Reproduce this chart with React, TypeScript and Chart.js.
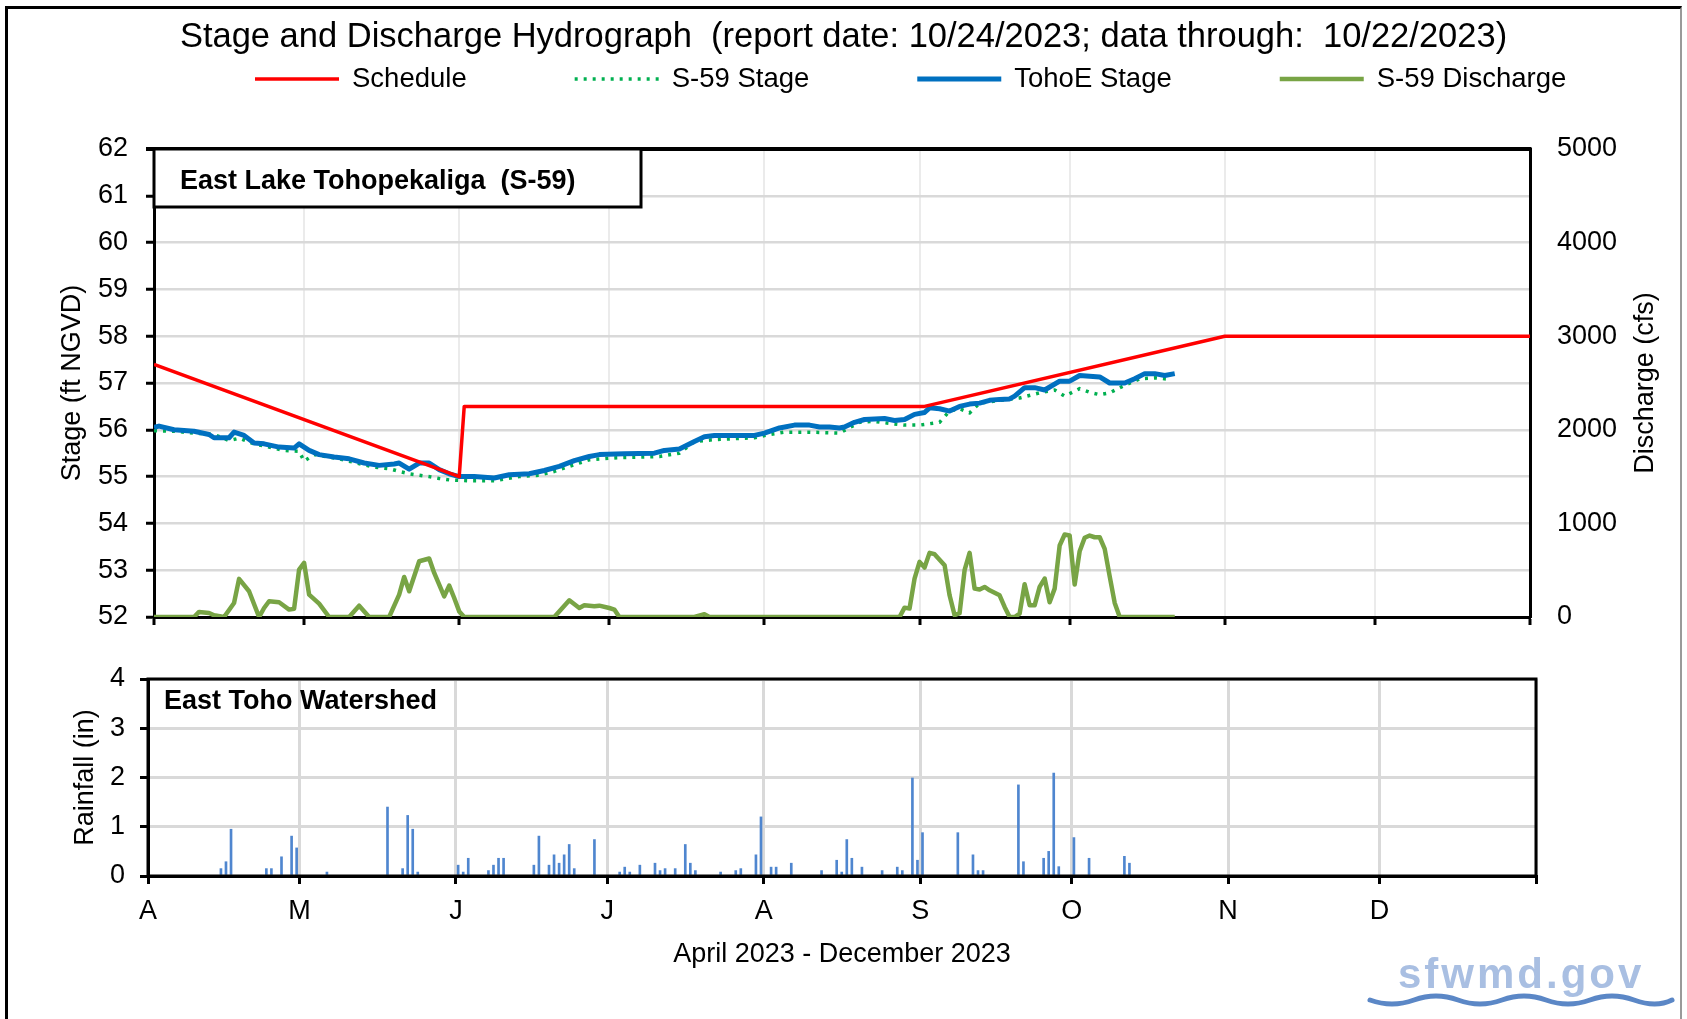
import React, { useEffect, useRef } from 'react';
import { Chart, registerables } from 'chart.js';

Chart.register(...registerables);

const FONT = '"Liberation Sans", Arial, Helvetica, sans-serif';
Chart.defaults.font.family = FONT;
Chart.defaults.color = '#000';

// ---- axis / categories (days since 1 April 2023) ----
const monthStartDays = [0, 30, 61, 91, 122, 153, 183, 214, 244, 275];
const monthLabels = ['A', 'M', 'J', 'J', 'A', 'S', 'O', 'N', 'D', ''];
const stageTicks = [52, 53, 54, 55, 56, 57, 58, 59, 60, 61, 62];
const dischargeTicks = [0, 1000, 2000, 3000, 4000, 5000];
const rainTicks = [0, 1, 2, 3, 4];

// ---- Schedule (ft NGVD) ----
const scheduleDays = [0, 61, 62, 154, 214, 275];
const scheduleStage = [57.4, 55.0, 56.5, 56.5, 58.0, 58.0];

// ---- TohoE Stage (ft NGVD) ----
const tohoEDays = [0, 1, 4, 8, 11, 12, 15, 16, 18, 20, 22, 25, 28, 29, 31, 33, 36, 39, 42, 45, 48, 49, 51, 53, 55, 57, 59, 61, 64, 68, 71, 75, 78, 81, 84, 87, 89, 94, 100, 102, 105, 108, 110, 112, 120, 122, 125, 128, 131, 133, 135, 137, 138, 140, 142, 146, 148, 150, 152, 154, 155, 157, 159, 161, 163, 165, 167, 169, 171, 172, 174, 176, 178, 181, 183, 185, 189, 191, 194, 196, 198, 200, 202, 204];
const tohoEStage = [56.05, 56.08, 56.0, 55.97, 55.9, 55.83, 55.83, 55.95, 55.88, 55.72, 55.7, 55.63, 55.61, 55.7, 55.56, 55.47, 55.42, 55.38, 55.29, 55.24, 55.27, 55.29, 55.16, 55.29, 55.29, 55.15, 55.06, 55.0, 55.0, 54.97, 55.04, 55.06, 55.13, 55.22, 55.34, 55.43, 55.47, 55.49, 55.5, 55.56, 55.59, 55.75, 55.85, 55.88, 55.88, 55.93, 56.04, 56.1, 56.1, 56.06, 56.06, 56.04, 56.06, 56.16, 56.22, 56.24, 56.2, 56.22, 56.33, 56.37, 56.47, 56.45, 56.4, 56.5, 56.55, 56.57, 56.63, 56.65, 56.66, 56.72, 56.9, 56.9, 56.85, 57.04, 57.04, 57.16, 57.13, 57.0, 57.0, 57.09, 57.2, 57.2, 57.16, 57.2];

// ---- S-59 Stage (ft NGVD) ----
const s59Days = [0, 4, 8, 12, 15, 17, 20, 26, 29, 30, 32, 37, 44, 47, 49, 51, 55, 57, 59, 63, 68, 73, 77, 80, 83, 87, 92, 101, 105, 108, 112, 120, 123, 126, 131, 137, 141, 144, 146, 150, 153, 157, 159, 161, 163, 165, 167, 173, 177, 180, 182, 185, 187, 189, 191, 194, 197, 200, 203];
const s59Stage = [55.98, 55.97, 55.93, 55.9, 55.77, 55.82, 55.7, 55.56, 55.54, 55.33, 55.47, 55.38, 55.2, 55.17, 55.11, 55.06, 55.0, 54.96, 54.93, 54.91, 54.91, 55.0, 55.03, 55.11, 55.22, 55.36, 55.4, 55.43, 55.5, 55.75, 55.79, 55.83, 55.9, 55.95, 55.95, 55.93, 56.16, 56.18, 56.15, 56.1, 56.1, 56.16, 56.4, 56.45, 56.36, 56.57, 56.6, 56.68, 56.79, 56.85, 56.72, 56.88, 56.8, 56.75, 56.79, 56.95, 57.09, 57.11, 57.08];

// ---- S-59 Discharge (cfs) ----
const dischargeDays = [0, 8, 9, 11, 12, 14, 16, 17, 19, 21, 22, 23, 25, 27, 28, 29, 30, 31, 33, 35, 39, 41, 43, 47, 49, 50, 51, 53, 55, 56, 58, 59, 60, 61, 62, 80, 83, 85, 86, 88, 89, 91, 92, 93, 108, 110, 111, 149, 150, 151, 152, 153, 154, 155, 156, 158, 159, 160, 161, 162, 163, 164, 165, 166, 167, 169, 170, 171, 172, 173, 174, 175, 176, 177, 178, 179, 180, 181, 182, 183, 184, 185, 186, 187, 188, 189, 190, 191, 192, 193, 204];
const dischargeCfs = [0, 0, 54, 43, 18, 0, 150, 407, 275, 0, 96, 168, 157, 79, 89, 507, 578, 239, 143, 0, 0, 121, 0, 0, 239, 428, 275, 596, 625, 471, 221, 335, 203, 60, 0, 0, 178, 96, 125, 114, 121, 96, 79, 0, 0, 29, 0, 0, 100, 90, 411, 589, 528, 685, 671, 553, 232, 20, 40, 500, 685, 303, 293, 321, 285, 232, 107, 0, 0, 36, 350, 125, 125, 321, 411, 157, 303, 764, 881, 870, 346, 703, 846, 870, 852, 852, 728, 435, 150, 0, 0];

// ---- East Toho Watershed rainfall (in) ----
const rainDays = [14, 15, 16, 23, 24, 26, 28, 29, 35, 47, 50, 51, 52, 53, 61, 62, 63, 67, 68, 69, 70, 76, 77, 79, 80, 81, 82, 83, 84, 88, 93, 94, 95, 97, 100, 101, 102, 104, 106, 107, 108, 113, 116, 117, 120, 121, 123, 124, 127, 133, 136, 137, 138, 139, 141, 145, 148, 149, 151, 152, 153, 160, 163, 164, 165, 172, 173, 177, 178, 179, 180, 183, 186, 193, 194];
const rainInches = [0.15, 0.29, 0.95, 0.15, 0.15, 0.39, 0.81, 0.57, 0.08, 1.4, 0.15, 1.23, 0.95, 0.08, 0.22, 0.08, 0.36, 0.11, 0.22, 0.36, 0.36, 0.22, 0.81, 0.22, 0.43, 0.26, 0.43, 0.64, 0.15, 0.74, 0.08, 0.18, 0.08, 0.22, 0.26, 0.11, 0.15, 0.15, 0.64, 0.26, 0.11, 0.08, 0.11, 0.15, 0.43, 1.2, 0.18, 0.18, 0.26, 0.11, 0.32, 0.08, 0.74, 0.36, 0.18, 0.11, 0.18, 0.11, 1.99, 0.32, 0.88, 0.88, 0.43, 0.11, 0.11, 1.85, 0.29, 0.36, 0.5, 2.09, 0.19, 0.78, 0.36, 0.4, 0.26];

const TITLE = 'Stage and Discharge Hydrograph  (report date: 10/24/2023; data through:  10/22/2023)';

const pts = (xs: number[], ys: number[], dx = 0) => xs.map((x, i) => ({ x: x + dx, y: ys[i] }));
const setTicks = (vals: number[]) => (s: any) => {
  s.ticks = vals.map((v) => ({ value: v }));
};
const plainNum = (v: any) => String(v);

const upperDecor = {
  id: 'upperDecor',
  afterDraw(chart: any) {
    const { ctx, chartArea: a } = chart;
    ctx.save();
    // top border of plot
    ctx.strokeStyle = '#000';
    ctx.lineWidth = 4;
    ctx.beginPath();
    ctx.moveTo(a.left - 8, a.top);
    ctx.lineTo(a.right + 1.5, a.top);
    ctx.stroke();
    // station label box
    ctx.fillStyle = '#fff';
    ctx.fillRect(a.left, a.top, 487, 58);
    ctx.lineWidth = 3;
    ctx.strokeRect(a.left, a.top, 487, 58);
    ctx.fillStyle = '#000';
    ctx.font = `bold 27px ${FONT}`;
    ctx.textAlign = 'left';
    ctx.textBaseline = 'middle';
    ctx.fillText('East Lake Tohopekaliga  (S-59)', a.left + 26, a.top + 33);
    // right axis title (reads bottom-to-top)
    ctx.save();
    ctx.translate(1646, (a.top + a.bottom) / 2);
    ctx.rotate(-Math.PI / 2);
    ctx.textAlign = 'center';
    ctx.font = `27px ${FONT}`;
    ctx.fillText('Discharge (cfs)', 0, 0);
    ctx.restore();
    // legend
    let x = 255;
    const y = 79;
    ctx.font = `27.5px ${FONT}`;
    chart.data.datasets.forEach((ds: any) => {
      ctx.strokeStyle = ds.borderColor;
      ctx.lineWidth = ds.borderWidth;
      ctx.setLineDash(ds.borderDash || []);
      ctx.beginPath();
      ctx.moveTo(x, y);
      ctx.lineTo(x + 84, y);
      ctx.stroke();
      ctx.setLineDash([]);
      ctx.fillStyle = '#000';
      ctx.textAlign = 'left';
      ctx.textBaseline = 'middle';
      ctx.fillText(ds.label, x + 97, y);
      x += 97 + ctx.measureText(ds.label).width + 108;
    });
    ctx.restore();
  },
};

const lowerDecor = {
  id: 'lowerDecor',
  afterDraw(chart: any) {
    const { ctx, chartArea: a } = chart;
    ctx.save();
    ctx.strokeStyle = '#000';
    ctx.lineWidth = 3;
    ctx.strokeRect(a.left, a.top, a.right - a.left, a.bottom - a.top);
    ctx.fillStyle = '#000';
    ctx.font = `bold 27px ${FONT}`;
    ctx.textAlign = 'left';
    ctx.textBaseline = 'middle';
    ctx.fillText('East Toho Watershed', a.left + 16, a.top + 23);
    ctx.restore();
  },
};

const lineDs = (label: string, data: any[], color: string, width: number, axis: string, order: number, dash?: number[]) => ({
  label,
  data,
  borderColor: color,
  backgroundColor: color,
  borderWidth: width,
  borderDash: dash || [],
  pointRadius: 0,
  tension: 0,
  fill: false,
  yAxisID: axis,
  order,
  borderJoinStyle: 'round',
});

function upperConfig(): any {
  return {
    type: 'line',
    data: {
      datasets: [
        lineDs('Schedule', pts(scheduleDays, scheduleStage), '#ff0000', 3.5, 'y', 0),
        lineDs('S-59 Stage', pts(s59Days, s59Stage), '#00b050', 3.5, 'y', 2, [3, 6]),
        lineDs('TohoE Stage', pts(tohoEDays, tohoEStage), '#0070c0', 5, 'y', 1),
        lineDs('S-59 Discharge', pts(dischargeDays, dischargeCfs), '#78a445', 4.5, 'y1', 3),
      ],
    },
    options: {
      animation: false,
      responsive: false,
      maintainAspectRatio: false,
      events: [],
      layout: { padding: { left: 0, right: 0, top: 0, bottom: 0 } },
      plugins: {
        legend: { display: false },
        tooltip: { enabled: false },
        title: {
          display: true,
          text: TITLE,
          color: '#000',
          font: { family: FONT, size: 34.5, weight: 'normal', lineHeight: 1.2 },
          padding: { top: 17, bottom: 90.6 },
        },
      },
      scales: {
        x: {
          type: 'linear',
          min: 0,
          max: 275,
          afterBuildTicks: setTicks(monthStartDays),
          afterFit: (s: any) => {
            s.height = 50;
          },
          ticks: { display: false },
          grid: { color: '#ebebeb', lineWidth: 2, tickColor: '#000', tickWidth: 3, tickLength: 8 },
          border: { display: true, color: '#000', width: 3 },
        },
        y: {
          position: 'left',
          min: 52,
          max: 62,
          afterBuildTicks: setTicks(stageTicks),
          afterFit: (s: any) => {
            s.width = 154;
          },
          ticks: { font: { size: 27, family: FONT }, color: '#000', padding: 18, callback: plainNum },
          grid: { color: '#d9d9d9', lineWidth: 2.5, tickColor: '#000', tickWidth: 3, tickLength: 8 },
          border: { display: true, color: '#000', width: 3 },
          title: {
            display: true,
            text: 'Stage (ft NGVD)',
            color: '#000',
            font: { size: 27, family: FONT },
            padding: { top: 56, bottom: 0 },
          },
        },
        y1: {
          position: 'right',
          min: 0,
          max: 5000,
          afterBuildTicks: setTicks(dischargeTicks),
          afterFit: (s: any) => {
            s.width = 157;
          },
          ticks: { font: { size: 27, family: FONT }, color: '#000', padding: 27, callback: plainNum },
          grid: { drawOnChartArea: false, drawTicks: false },
          border: { display: true, color: '#000', width: 3 },
        },
      },
    },
    plugins: [upperDecor],
  };
}

function lowerConfig(): any {
  return {
    type: 'bar',
    data: {
      datasets: [
        {
          label: 'Rainfall',
          // bars centred within their day
          data: pts(rainDays, rainInches, 0.45),
          backgroundColor: '#4f86cf',
          borderWidth: 0,
          barThickness: 2,
        },
      ],
    },
    options: {
      animation: false,
      responsive: false,
      maintainAspectRatio: false,
      events: [],
      layout: { padding: { left: 0, right: 151, top: 49, bottom: 46.8 } },
      plugins: { legend: { display: false }, tooltip: { enabled: false }, title: { display: false } },
      scales: {
        x: {
          type: 'linear',
          min: 0,
          max: 275,
          offset: false,
          afterBuildTicks: setTicks(monthStartDays),
          afterFit: (s: any) => {
            s.height = 96.2;
          },
          ticks: {
            font: { size: 27, family: FONT },
            color: '#000',
            padding: 11,
            autoSkip: false,
            maxRotation: 0,
            callback: (_v: any, i: number) => monthLabels[i],
          },
          grid: { offset: false, color: '#d9d9d9', lineWidth: 3, tickColor: '#000', tickWidth: 3, tickLength: 8 },
          border: { display: true, color: '#000', width: 3 },
          title: {
            display: true,
            text: 'April 2023 - December 2023',
            color: '#000',
            font: { size: 27, family: FONT },
            padding: { top: 0, bottom: 1 },
          },
        },
        y: {
          position: 'left',
          min: 0,
          max: 4,
          afterBuildTicks: setTicks(rainTicks),
          afterFit: (s: any) => {
            s.width = 148;
          },
          ticks: { font: { size: 27, family: FONT }, color: '#000', padding: 15, callback: plainNum },
          grid: { color: '#d9d9d9', lineWidth: 3, tickColor: '#000', tickWidth: 3, tickLength: 8 },
          border: { display: true, color: '#000', width: 3 },
          title: {
            display: true,
            text: 'Rainfall (in)',
            color: '#000',
            font: { size: 27, family: FONT },
            padding: { top: 69, bottom: 0 },
          },
        },
      },
    },
    plugins: [lowerDecor],
  };
}

export default function App() {
  const upperRef = useRef<HTMLCanvasElement>(null);
  const lowerRef = useRef<HTMLCanvasElement>(null);

  useEffect(() => {
    const up = new Chart(upperRef.current as HTMLCanvasElement, upperConfig());
    const lo = new Chart(lowerRef.current as HTMLCanvasElement, lowerConfig());
    return () => {
      up.destroy();
      lo.destroy();
    };
  }, []);

  return (
    <div style={{ position: 'absolute', left: 0, top: 0, width: 1687, height: 1019, background: '#fff', overflow: 'hidden' }}>
      <div
        style={{
          position: 'absolute',
          left: 5,
          top: 6,
          width: 1672,
          height: 1040,
          borderTop: '3px solid #000',
          borderLeft: '3px solid #000',
          borderRight: '2px solid #9a9a9a',
        }}
      />
      <canvas ref={upperRef} width={1687} height={667} style={{ position: 'absolute', left: 0, top: 0, width: 1687, height: 667 }} />
      <canvas ref={lowerRef} width={1687} height={389} style={{ position: 'absolute', left: 0, top: 630, width: 1687, height: 389 }} />
      <div
        style={{
          position: 'absolute',
          left: 1398,
          top: 949,
          fontFamily: FONT,
          fontWeight: 'bold',
          fontSize: 42,
          lineHeight: '50px',
          letterSpacing: 3,
          color: '#a9bfe2',
          whiteSpace: 'nowrap',
        }}
      >
        sfwmd.gov
      </div>
      <svg style={{ position: 'absolute', left: 1366, top: 988 }} width={312} height={24}>
        <path
          d="M4 12 Q 26 20 48 12 T 92 12 T 136 12 T 180 12 T 224 12 T 268 12 T 306 12"
          stroke="#5b87c6"
          strokeWidth={5}
          fill="none"
          strokeLinecap="round"
        />
      </svg>
    </div>
  );
}
